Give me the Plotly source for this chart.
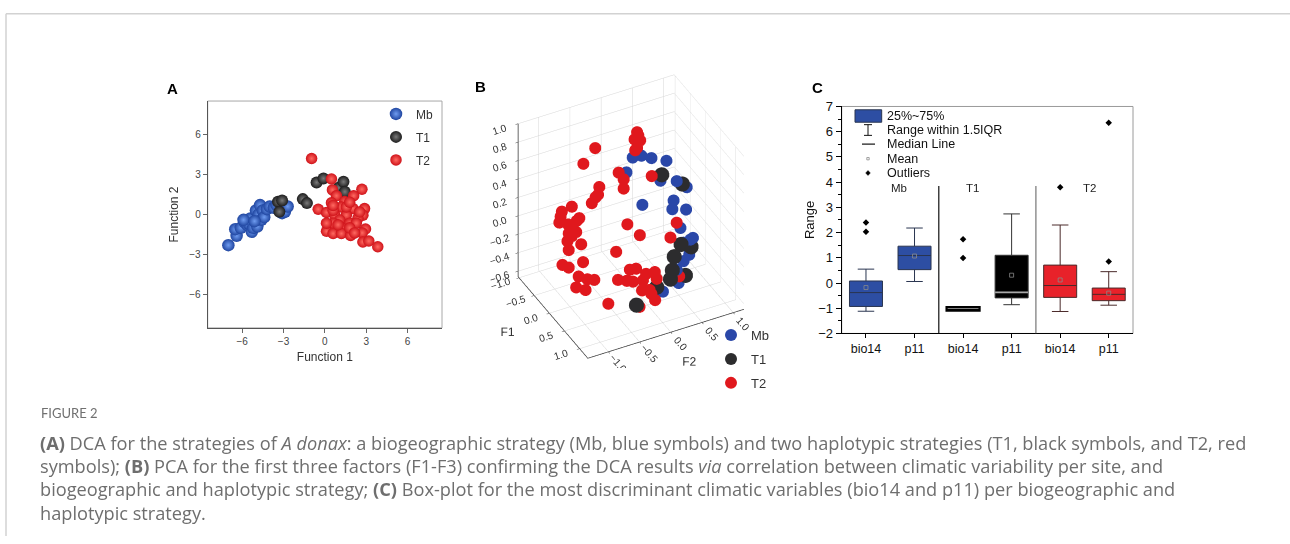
import plotly.graph_objects as go

W, H = 1290, 544


def px(x):
    return x / W


def py(y):
    return 1 - y / H


# ---------------- Panel A: DCA scores (Function 1, Function 2) ----------------
mb_fn1 = [-7.0, -6.4, -6.5, -6.1, -5.8, -5.6, -5.4, -5.5, -5.3, -5.2, -5.0, -4.9, -4.8,
          -4.7, -4.6, -4.5, -4.4, -4.2, -4.0, -3.7, -3.5, -3.1, -2.9, -2.7, -5.9, -5.1]
mb_fn2 = [-2.3, -1.6, -1.1, -1.0, -0.6, -0.8, -0.3, -0.7, -1.3, -1.0, 0.3, -0.9, 0.0,
          0.7, -0.4, 0.3, -0.2, 0.4, 0.6, 0.5, 0.7, 0.1, 0.2, 0.6, -0.4, -0.5]
t1_fn1 = [-3.4, -3.1, -3.3, -1.6, -1.3, -0.6, -0.1, 1.0, 1.35, 1.45]
t1_fn2 = [0.95, 1.05, 0.2, 1.15, 0.85, 2.4, 2.7, 2.0, 2.45, 1.7]
t2_fn1 = [-0.96, 0.48, 0.55, 2.69, 2.09, 0.84, 1.44, 0.48, -0.48, 0.12, 2.88, 2.04, 1.2,
          2.76, 1.56, 0.72, 1.08, 2.4, 0.6, 1.8, 1.2, 0.12, 0.6, 1.2, 1.87, 2.95, 2.71,
          2.76, 3.19, 3.84, 2.28, 2.52, 1.56, 0.6, 1.8, 0.96, 0.12, 2.16, 1.8, 0.6]
t2_fn2 = [4.19, 2.66, 1.84, 1.89, 1.40, 1.40, 0.97, 0.87, 0.39, 0.15, 0.44, 0.44, 0.56,
          -0.05, -0.05, -0.05, -0.41, -0.29, -0.65, -0.65, -1.0, -1.26, -1.43, -1.43, -1.57,
          -1.09, -1.38, -2.06, -1.99, -2.42, -0.65, 0.19, 0.56, 0.31, -1.0, -0.77, -0.65,
          -1.38, 0.92, 0.68]
fn_ticks = [-6, -3, 0, 3, 6]

# ---------------- Panel B: PCA factor scores (F1, F2, F3) ----------------
pca_mb_f1 = [-0.57, -0.57, -0.57, -0.57, -0.57, -0.23, -0.23, -0.23, -0.23, -0.23, -0.23,
             -0.23, 0.12, 0.12, 0.12, 0.12, 0.12, 0.12, 0.47, 0.47, 0.47]
pca_mb_f2 = [0.28, 0.42, 0.58, 0.82, 0.18, 0.56, 0.82, 0.98, 0.27, 0.77, 0.75, 0.97,
             0.71, 0.87, 0.91, 0.85, 0.76, 0.76, 0.48, 0.51, 0.26]
pca_mb_f3 = [0.47, 0.46, 0.40, 0.32, 0.33, 0.29, 0.23, 0.13, 0.09, 0.03, -0.06, -0.11,
             -0.12, -0.28, -0.27, -0.44, -0.49, -0.29, -0.39, -0.54, -0.58]

pca_t1_f1 = [-0.23, -0.23, 0.12, 0.12, 0.12, 0.47, 0.47, 0.47, 0.47, 0.81]
pca_t1_f2 = [0.58, 0.91, 0.72, 0.88, 0.61, 0.41, 0.62, 0.38, 0.16, -0.33]
pca_t1_f3 = [0.35, 0.18, -0.30, -0.36, -0.41, -0.38, -0.48, -0.47, -0.51, -0.47]

pca_t2_f1 = [-0.57, -0.57, -0.57, -0.57, -0.57, -0.57, -0.57, -0.57, -0.23, -0.23, -0.23,
             -0.23, -0.23, -0.23, -0.23, -0.23, -0.23, -0.23, -0.23, -0.23, -0.23, -0.23,
             -0.23, -0.23, -0.23, -0.23, -0.23, -0.23, -0.23, -0.23, -0.23, 0.12, 0.12,
             0.12, 0.12, 0.12, 0.12, 0.12, 0.12, 0.47, 0.47, 0.47, 0.47, 0.47, 0.47, 0.47,
             0.47, 0.81, 0.81, 0.81, 0.81, 0.81, -0.23, 0.12, 0.12, 0.47, 0.81, -0.23, 0.47]
pca_t2_f2 = [0.35, 0.37, 0.31, 0.40, 0.35, 0.32, -0.32, -0.51, -0.11, -0.03, -0.03, -0.42,
             -0.44, -0.48, -0.54, -0.86, -1.02, -1.04, -1.06, -0.92, -0.74, -0.78, -0.79,
             -0.91, -0.86, -0.93, -0.91, -0.71, -0.68, -1.01, -0.91, -0.92, -0.78, -0.67,
             -0.96, -0.81, -0.32, -0.14, 0.06, -0.46, -0.32, -0.22, -0.17, -0.06, -0.01,
             0.13, 0.16, -0.24, -0.09, -0.03, -0.78, -0.28, 0.42, 0.65, 0.55, 0.52, -0.12,
             -0.89, -0.27]
pca_t2_f3 = [0.73, 0.69, 0.66, 0.63, 0.56, 0.54, 0.70, 0.57, 0.52, 0.43, 0.33, 0.43,
             0.35, 0.33, 0.28, 0.31, 0.29, 0.24, 0.18, 0.13, 0.16, 0.14, 0.02, 0.03,
             -0.01, -0.05, -0.15, -0.13, -0.33, -0.29, -0.34, -0.30, -0.36, -0.39, -0.41,
             -0.47, -0.16, 0.10, -0.06, -0.30, -0.34, -0.37, -0.24, -0.39, -0.33, -0.34,
             -0.42, -0.33, -0.40, -0.48, -0.36, -0.50, 0.37, -0.05, -0.19, -0.47, -0.35,
             0.09, -0.23]
f12_ticks = [-1.0, -0.5, 0.0, 0.5, 1.0]
f3_ticks = [-0.6, -0.4, -0.2, 0.0, 0.2, 0.4, 0.6, 0.8, 1.0]

# ---------------- Panel C: box statistics per strategy ----------------
box_labels = ["bio14", "p11", "bio14", "p11", "bio14", "p11"]
box_groups = ["Mb", "T1", "T2"]
box_q1 = [-0.93, 0.53, -1.10, -0.59, -0.57, -0.70]
box_median = [-0.38, 1.09, -1.08, -0.37, -0.10, -0.45]
box_q3 = [0.08, 1.46, -0.96, 1.10, 0.71, -0.20]
box_lower = [-1.12, 0.06, -1.10, -0.86, -1.13, -0.88]
box_upper = [0.55, 2.18, -0.96, 2.74, 2.30, 0.45]
box_mean = [-0.18, 1.07, None, 0.31, 0.12, -0.40]
outlier_box = [0, 0, 2, 2, 4, 5, 5]
outlier_val = [2.40, 2.03, 1.74, 0.99, 3.80, 0.85, 6.35]

# ---------------- styling ----------------
BLUE, BLUE_HI = "#1f45a0", "#6f9cf0"
DARK, DARK_HI = "#1c1c1c", "#7a7a7a"
RED, RED_HI = "#cf1219", "#ff6a62"
FONT = "Liberation Sans, Arial, sans-serif"
CAPTION_FONT = "Open Sans, Lato, sans-serif"
BOX_W = 0.68

fig = go.Figure()

# Panel A
for name, xs, ys, col, hi, size in [
    ("Mb", mb_fn1, mb_fn2, BLUE, BLUE_HI, 12.5),
    ("T1", t1_fn1, t1_fn2, DARK, DARK_HI, 12),
    ("T2", t2_fn1, t2_fn2, RED, RED_HI, 11.5),
]:
    fig.add_trace(go.Scatter(
        x=xs, y=ys, mode="markers", name=name, xaxis="x", yaxis="y",
        legend="legend", legendgroup="a" + name,
        marker=dict(size=size, color=col, line=dict(width=0),
                    gradient=dict(type="radial", color=hi)),
    ))

# Panel B
for name, xs, ys, zs, col, size in [
    ("Mb", pca_mb_f1, pca_mb_f2, pca_mb_f3, "#2a47a8", 7.0),
    ("T1", pca_t1_f1, pca_t1_f2, pca_t1_f3, "#2c2c2e", 8.8),
    ("T2", pca_t2_f1, pca_t2_f2, pca_t2_f3, "#e0181d", 7.0),
]:
    fig.add_trace(go.Scatter3d(
        x=xs, y=ys, z=zs, mode="markers", name=name, scene="scene",
        legend="legend2", legendgroup="b" + name,
        marker=dict(size=size, color=col, line=dict(width=0), opacity=1),
    ))

# Panel C boxes
box_fill = ["#2d4ea3", "#2d4ea3", "#ffffff", "#000000", "#e8222a", "#e8222a"]
box_edge = ["#2a3550", "#2a3550", "#000000", "#333333", "#4a2a2a", "#4a2a2a"]
box_edge_w = [1, 1, 2.2, 1, 1, 1]
for i in range(len(box_labels)):
    fig.add_trace(go.Box(
        x=[i + 1], q1=[box_q1[i]], median=[box_median[i]], q3=[box_q3[i]],
        lowerfence=[box_lower[i]], upperfence=[box_upper[i]],
        fillcolor=box_fill[i], line=dict(color=box_edge[i], width=box_edge_w[i]),
        width=BOX_W, whiskerwidth=0.5, boxpoints=False, showlegend=False,
        xaxis="x2", yaxis="y2", hoverinfo="skip",
    ))

# light median line drawn over the dark T1 p11 box
fig.add_trace(go.Scatter(
    x=[4 - BOX_W / 2, 4 + BOX_W / 2], y=[box_median[3], box_median[3]],
    mode="lines", line=dict(color="#a8a8a8", width=1.6),
    xaxis="x2", yaxis="y2", showlegend=False, hoverinfo="skip",
))

mean_x = [i + 1 for i, m in enumerate(box_mean) if m is not None]
mean_y = [m for m in box_mean if m is not None]
fig.add_trace(go.Scatter(
    x=mean_x, y=mean_y, mode="markers", xaxis="x2", yaxis="y2", showlegend=False,
    marker=dict(symbol="square-open", size=4, color="#8a8a8a", line=dict(width=0.8)),
))
fig.add_trace(go.Scatter(
    x=[b + 1 for b in outlier_box], y=outlier_val, mode="markers",
    xaxis="x2", yaxis="y2", showlegend=False,
    marker=dict(symbol="diamond", size=5, color="#000000"),
))

# ---------------- axes ----------------
A_X0, A_X1, A_Y0, A_Y1 = 207.7, 442, 96.7, 330
C_X0, C_X1, C_Y0, C_Y1 = 841.7, 1133, 102.3, 335.7

axis_font = dict(family=FONT, size=10, color="#444")
fig.update_layout(
    xaxis=dict(domain=[px(A_X0), px(A_X1)], range=[-8.5, 8.5], tickvals=fn_ticks,
               ticks="outside", ticklen=4, tickcolor="#666", showgrid=False, zeroline=False,
               showline=True, linecolor="#555", linewidth=1, tickfont=axis_font,
               title=dict(text="Function 1", font=dict(family=FONT, size=12, color="#333"),
                          standoff=6),
               anchor="y"),
    yaxis=dict(domain=[py(A_Y1), py(A_Y0)], range=[-8.5, 8.5], tickvals=fn_ticks,
               ticks="outside", ticklen=4, tickcolor="#666", showgrid=False, zeroline=False,
               showline=True, linecolor="#555", linewidth=1, tickfont=axis_font,
               title=dict(text="Function 2", font=dict(family=FONT, size=12, color="#333"),
                          standoff=8),
               anchor="x"),
    xaxis2=dict(domain=[px(C_X0), px(C_X1)], range=[0.5, 6.5],
                tickvals=list(range(1, len(box_labels) + 1)), ticktext=box_labels,
                ticks="outside", ticklen=4, tickcolor="#000", showgrid=False, zeroline=False,
                showline=True, linecolor="#000", linewidth=1,
                tickfont=dict(family=FONT, size=12.5, color="#111"), anchor="y2"),
    yaxis2=dict(domain=[py(C_Y1), py(C_Y0)], range=[-2, 7], dtick=1,
                ticks="outside", ticklen=5, tickcolor="#000", showgrid=False, zeroline=False,
                showline=True, linecolor="#000", linewidth=1,
                minor=dict(dtick=0.5, ticks="outside", ticklen=3, tickcolor="#000"),
                tickfont=dict(family=FONT, size=13, color="#111"),
                title=dict(text="Range", font=dict(family=FONT, size=13, color="#111"),
                           standoff=0),
                anchor="x2"),
)

axis3d = dict(showbackground=False, showgrid=True, gridcolor="#d6d6d6", gridwidth=1,
              zeroline=False, showline=True, linecolor="#333", linewidth=1.5,
              ticks="outside", ticklen=3, tickcolor="#444", showspikes=False,
              tickfont=dict(family=FONT, size=11, color="#333"), tickformat=".1f")
fig.update_layout(scene=dict(
    domain=dict(x=[px(481), px(781)], y=[py(372), py(60)]),
    xaxis=dict(axis3d, range=[-1.03, 1.27], tickvals=f12_ticks,
               title=dict(text="F1", font=dict(family=FONT, size=12, color="#333"))),
    yaxis=dict(axis3d, range=[-1.33, 1.17], tickvals=f12_ticks,
               title=dict(text="F2", font=dict(family=FONT, size=12, color="#333"))),
    zaxis=dict(axis3d, range=[-0.66, 1.0], tickvals=f3_ticks,
               title=dict(text="F3", font=dict(family=FONT, size=12, color="#333"))),
    aspectmode="manual", aspectratio=dict(x=1.0, y=1.16, z=1.27),
    camera=dict(eye=dict(x=1.41, y=-0.73, z=1.21), up=dict(x=0, y=0, z=1),
                center=dict(x=0, y=0, z=0), projection=dict(type="orthographic")),
    bgcolor="rgba(0,0,0,0)",
))

legend_common = dict(bgcolor="rgba(0,0,0,0)", borderwidth=0, traceorder="grouped",
                     xanchor="left", yanchor="top")
fig.update_layout(
    legend=dict(legend_common, x=px(376), y=py(95), tracegroupgap=4, itemsizing="trace",
                font=dict(family=FONT, size=12, color="#333")),
    legend2=dict(legend_common, x=px(711), y=py(322), tracegroupgap=4, itemsizing="constant",
                 font=dict(family=FONT, size=13, color="#333")),
)

# ---------------- shapes: frames, separators, box legend keys ----------------
shapes = [
    # outer page frame
    dict(type="line", xref="paper", yref="paper", x0=px(6), x1=1, y0=py(7), y1=py(7),
         line=dict(color="#d2d2d2", width=1.5)),
    dict(type="line", xref="paper", yref="paper", x0=px(6), x1=px(6), y0=py(7), y1=0,
         line=dict(color="#d2d2d2", width=1.5)),
    # panel A frame
    dict(type="rect", xref="paper", yref="paper", x0=px(A_X0), x1=px(A_X1),
         y0=py(A_Y1), y1=py(A_Y0), line=dict(color="#a8a8a8", width=1), layer="below"),
    # panel C frame (top / right)
    dict(type="rect", xref="paper", yref="paper", x0=px(C_X0), x1=px(C_X1),
         y0=py(C_Y1), y1=py(C_Y0), line=dict(color="#9a9a9a", width=1), layer="below"),
    # group separators in panel C
    dict(type="line", xref="x2", yref="y2", x0=2.5, x1=2.5, y0=-2, y1=3.85,
         line=dict(color="#111", width=1.2)),
    dict(type="line", xref="x2", yref="y2", x0=4.5, x1=4.5, y0=-2, y1=3.85,
         line=dict(color="#777", width=1.2)),
    # panel C legend keys
    dict(type="rect", xref="paper", yref="paper", x0=px(855), x1=px(881.7),
         y0=py(118.5), y1=py(105.7), fillcolor="#2d4ea3", line=dict(color="#2a3550", width=1)),
    dict(type="line", xref="paper", yref="paper", x0=px(868), x1=px(868),
         y0=py(132), y1=py(121), line=dict(color="#111", width=1)),
    dict(type="line", xref="paper", yref="paper", x0=px(864), x1=px(872),
         y0=py(121), y1=py(121), line=dict(color="#111", width=1)),
    dict(type="line", xref="paper", yref="paper", x0=px(864), x1=px(872),
         y0=py(132), y1=py(132), line=dict(color="#111", width=1)),
    dict(type="line", xref="paper", yref="paper", x0=px(862), x1=px(875),
         y0=py(141), y1=py(141), line=dict(color="#111", width=1.2)),
    dict(type="rect", xref="paper", yref="paper", x0=px(866.8), x1=px(869.2),
         y0=py(157.2), y1=py(154.8), line=dict(color="#8a8a8a", width=0.8)),
    dict(type="path", xref="paper", yref="paper",
         path=f"M {px(868)} {py(168.2)} L {px(870.3)} {py(170.7)} L {px(868)} {py(173.2)} "
              f"L {px(865.7)} {py(170.7)} Z",
         fillcolor="#000", line=dict(color="#000", width=0.5)),
]
fig.update_layout(shapes=shapes)

# ---------------- annotations ----------------
ann = []
for letter, x, y in [("A", 172, 84), ("B", 481, 82), ("C", 818, 83)]:
    ann.append(dict(text=f"<b>{letter}</b>", x=px(x), y=py(y), xref="paper", yref="paper",
                    xanchor="center", yanchor="middle", showarrow=False,
                    font=dict(family=FONT, size=15, color="#000")))

for text, y in [("25%~75%", 112.3), ("Range within 1.5IQR", 126.7), ("Median Line", 141),
                ("Mean", 156), ("Outliers", 170.7)]:
    ann.append(dict(text=text, x=px(885), y=py(y), xref="paper", yref="paper",
                    xanchor="left", yanchor="middle", showarrow=False,
                    font=dict(family=FONT, size=12.5, color="#111")))

for grp, gx in zip(box_groups, [1.68, 3.2, 5.6]):
    ann.append(dict(text=grp, x=gx, y=3.78, xref="x2", yref="y2", xanchor="center",
                    yanchor="middle", showarrow=False,
                    font=dict(family=FONT, size=11.5, color="#222")))

caption_lines = [
    "<b>(A)</b> DCA for the strategies of <i>A donax</i>: a biogeographic strategy (Mb, blue "
    "symbols) and two haplotypic strategies (T1, black symbols, and T2, red",
    "symbols); <b>(B)</b> PCA for the first three factors (F1-F3) confirming the DCA results "
    "<i>via</i> correlation between climatic variability per site, and",
    "biogeographic and haplotypic strategy; <b>(C)</b> Box-plot for the most discriminant "
    "climatic variables (bio14 and p11) per biogeographic and",
    "haplotypic strategy.",
]
ann.append(dict(text="FIGURE 2", x=px(39), y=py(418), xref="paper", yref="paper",
                xanchor="left", yanchor="middle", showarrow=False,
                font=dict(family="Lato, sans-serif", size=13, color="#707070")))
for i, line in enumerate(caption_lines):
    ann.append(dict(text=line, x=px(38), y=py(448 + 24 * i), xref="paper", yref="paper",
                    xanchor="left", yanchor="middle", showarrow=False,
                    font=dict(family=CAPTION_FONT, size=18.2, color="#6e6e6e")))
fig.update_layout(annotations=ann)

fig.update_layout(
    width=W, height=H, margin=dict(l=0, r=0, t=0, b=0),
    paper_bgcolor="#ffffff", plot_bgcolor="#ffffff",
    font=dict(family=FONT, color="#333"),
)

fig.write_html("out.html")
